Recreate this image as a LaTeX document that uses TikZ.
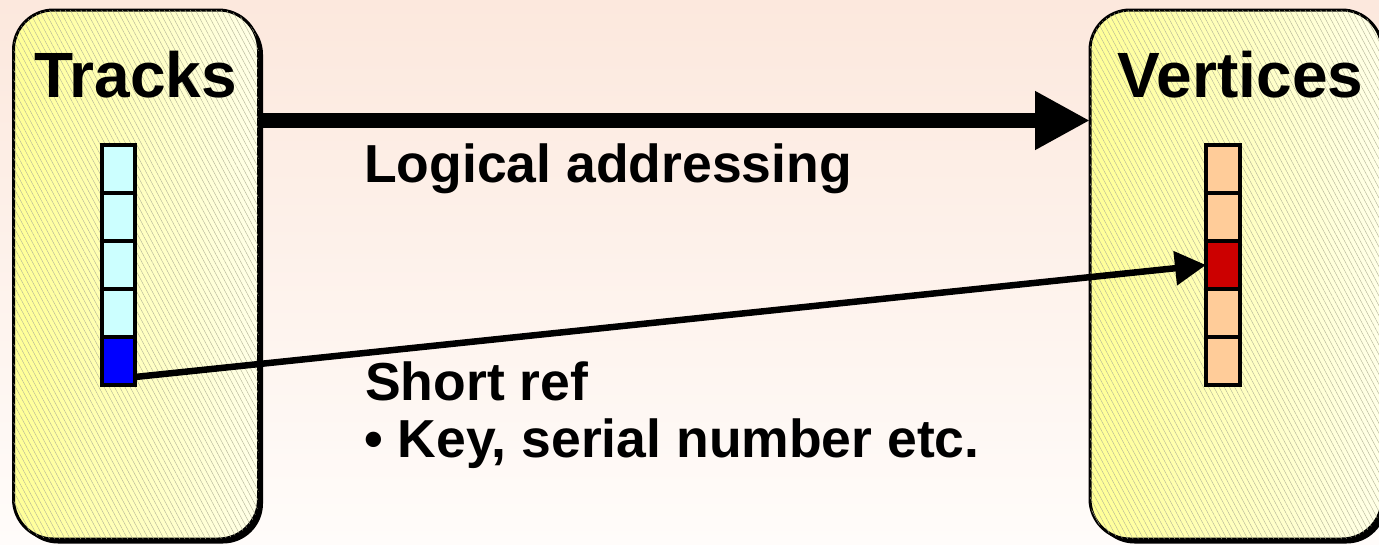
\documentclass[tikz,border=0pt]{standalone}
\usepackage{fontspec}
\setmainfont{Liberation Sans}
\usetikzlibrary{arrows.meta,patterns.meta,shadows}

\definecolor{bgtop}{RGB}{252,232,221}
\definecolor{bgbot}{RGB}{255,252,250}
\definecolor{yellowL}{RGB}{255,255,150}
\definecolor{yellowR}{RGB}{255,255,232}
\definecolor{hatch}{RGB}{178,178,150}
\definecolor{trackcell}{RGB}{204,255,255}
\definecolor{trackhit}{RGB}{0,0,255}
\definecolor{vtxcell}{RGB}{255,204,153}
\definecolor{vtxhit}{RGB}{204,0,0}

\tikzset{
  panel/.style={draw, line width=3pt, rounded corners=40pt,
    minimum height=529pt, inner sep=0pt, outer sep=0pt,
    left color=yellowL, right color=yellowR,
    drop shadow={shadow xshift=4.5pt, shadow yshift=-4.5pt, fill=black, opacity=1},
    postaction={pattern={Lines[angle=-62,distance=4.6pt,line width=0.4pt]}, pattern color=hatch}},
  cell/.style={minimum width=33pt, minimum height=48pt, inner sep=0pt, outer sep=0pt},
  cellborder/.style={line width=4.5pt},
  title/.style={font=\fontsize{64pt}{72pt}\selectfont\bfseries, inner sep=0pt, anchor=base},
  caption/.style={font=\fontsize{53.5pt}{57pt}\selectfont\bfseries, inner sep=0pt, anchor=base west},
  bigarrow/.style={line width=15pt, -{Triangle[length=55pt,width=55pt]}},
  refarrow/.style={line width=6.5pt, -{Triangle[length=31pt,width=33pt]}},
}

\begin{document}
\begin{tikzpicture}[x=1pt, y=-1pt]
  % page and background
  \useasboundingbox (0,0) rectangle (1379,544);
  \shade[top color=bgtop, bottom color=bgbot] (0,0) rectangle (1379,544);

  % the two panels
  \node[panel, minimum width=245pt] (trk) at (136,274.5) {};
  \node[panel, minimum width=292pt] (vtx) at (1236,274.5) {};

  % panel titles
  \node[title] (trkT) at (135.5,97) {Tracks};
  \node[title] (vtxT) at (1240.5,97) {Vertices};

  % track stack: fills first, borders on top
  \foreach \i/\c in {1/trackcell,2/trackcell,3/trackcell,4/trackcell,5/trackhit}
    \node[cell, fill=\c] (t\i) at (118.5,{121+48*\i}) {};
  \foreach \i in {1,...,5}
    \draw[cellborder] (t\i.north west) rectangle (t\i.south east);

  % vertex stack
  \foreach \i/\c in {1/vtxcell,2/vtxcell,3/vtxhit,4/vtxcell,5/vtxcell}
    \node[cell, fill=\c, minimum width=34pt] (v\i) at (1223,{121+48*\i}) {};
  \foreach \i in {1,...,5}
    \draw[cellborder] (v\i.north west) rectangle (v\i.south east);

  % logical addressing: panel to panel
  \coordinate (rowA) at (0,120.5);
  \draw[bigarrow] (trk.east |- rowA) -- (vtx.west |- rowA);

  % short reference: track entry to vertex entry
  \draw[refarrow] ([yshift=-16pt]t5.east) -- (v3.west);

  % captions
  \node[caption] (logic) at (364,182) {Logical addressing};
  \node[caption] (short) at (365,400) {Short ref};
  \node[caption] (key) at (364,457) {• Key, serial number etc.};
\end{tikzpicture}
\end{document}
